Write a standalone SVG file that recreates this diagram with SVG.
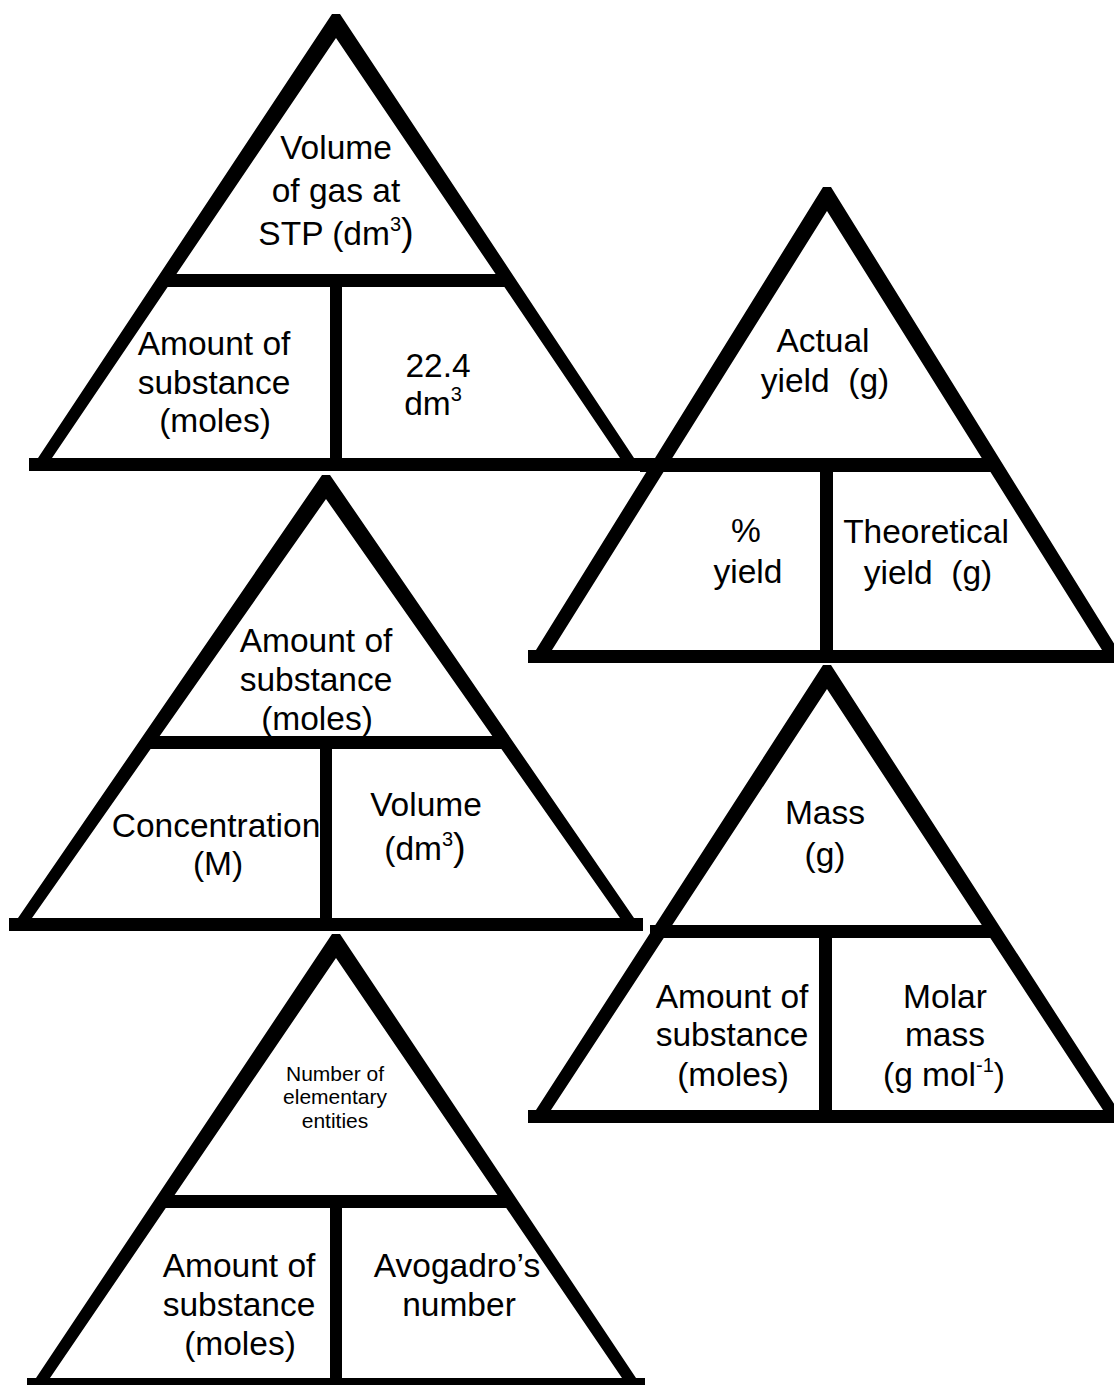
<svg xmlns="http://www.w3.org/2000/svg" width="1114" height="1385" viewBox="0 0 1114 1385">
<style>
.frame{fill:#000;fill-rule:evenodd}
.bar{fill:#000}
text{font-family:"Liberation Sans",Arial,sans-serif;font-size:33.5px;text-anchor:middle;fill:#000}
.sm{font-size:21px}
.sup{font-size:20px}
.big{font-size:38px}
.pre{white-space:pre}
</style>
<rect x="0" y="0" width="1114" height="1385" fill="#fff"/>

<g id="tri-gas-volume">
  <rect class="bar" x="165" y="274" width="340" height="13"/>
  <rect class="bar" x="330" y="285" width="12" height="175"/>
  <path class="frame" d="M332,14 L340,14 L634,458 L643,458 L643,471 L29,471 L29,458 L38,458 Z M336,38 L620,458 L52,458 Z"/>
  <text x="336" y="159">Volume</text>
  <text x="336" y="202">of gas at</text>
  <text x="336" y="245">STP (dm<tspan class="sup" dy="-14">3</tspan><tspan class="big" dy="14">)</tspan></text>
  <text x="214" y="355">Amount of</text>
  <text x="214" y="394">substance</text>
  <text x="215" y="432">(moles)</text>
  <text x="438" y="377">22.4</text>
  <text x="433" y="415">dm<tspan class="sup" dy="-14">3</tspan></text>
</g>

<g id="tri-yield">
  <rect class="bar" x="640" y="458" width="355" height="14"/>
  <rect class="bar" x="820" y="470" width="13" height="182"/>
  <path class="frame" d="M823,187 L831,187 L1118,650 L1126,650 L1126,663 L528,663 L528,650 L536,650 Z M827,211 L1102,650 L552,650 Z"/>
  <text x="823" y="352">Actual</text>
  <text x="825" y="392" class="pre">yield  (g)</text>
  <text x="746" y="542">%</text>
  <text x="748" y="583">yield</text>
  <text x="926" y="543">Theoretical</text>
  <text x="928" y="584" class="pre">yield  (g)</text>
</g>

<g id="tri-concentration">
  <rect class="bar" x="145" y="736" width="360" height="13"/>
  <rect class="bar" x="320" y="747" width="12" height="173"/>
  <path class="frame" d="M322,475 L330,475 L634,918 L643,918 L643,931 L9,931 L9,918 L18,918 Z M326,499 L620,918 L32,918 Z"/>
  <text x="316" y="652">Amount of</text>
  <text x="316" y="691">substance</text>
  <text x="317" y="730">(moles)</text>
  <text x="216" y="837">Concentration</text>
  <text x="218" y="875">(M)</text>
  <text x="426" y="816">Volume</text>
  <text x="425" y="860">(dm<tspan class="sup" dy="-14">3</tspan><tspan class="big" dy="14">)</tspan></text>
</g>

<g id="tri-mass">
  <rect class="bar" x="650" y="925" width="345" height="13"/>
  <rect class="bar" x="819" y="936" width="13" height="176"/>
  <path class="frame" d="M823,665 L831,665 L1118,1110 L1126,1110 L1126,1123 L528,1123 L528,1110 L536,1110 Z M827,689 L1103,1110 L551,1110 Z"/>
  <text x="825" y="824">Mass</text>
  <text x="825" y="866">(g)</text>
  <text x="732" y="1008">Amount of</text>
  <text x="732" y="1046">substance</text>
  <text x="733" y="1086">(moles)</text>
  <text x="945" y="1008">Molar</text>
  <text x="945" y="1046">mass</text>
  <text x="944" y="1086">(g mol<tspan class="sup" dy="-14">-1</tspan><tspan dy="14">)</tspan></text>
</g>

<g id="tri-entities">
  <rect class="bar" x="160" y="1195" width="352" height="13"/>
  <rect class="bar" x="330" y="1206" width="12" height="174"/>
  <path class="frame" d="M332,934 L340,934 L636,1378 L645,1378 L645,1391 L27,1391 L27,1378 L36,1378 Z M336,958 L622,1378 L50,1378 Z"/>
  <text class="sm" x="335" y="1081">Number of</text>
  <text class="sm" x="335" y="1104">elementary</text>
  <text class="sm" x="335" y="1128">entities</text>
  <text x="239" y="1277">Amount of</text>
  <text x="239" y="1316">substance</text>
  <text x="240" y="1355">(moles)</text>
  <text x="457" y="1277">Avogadro’s</text>
  <text x="459" y="1316">number</text>
</g>
</svg>
